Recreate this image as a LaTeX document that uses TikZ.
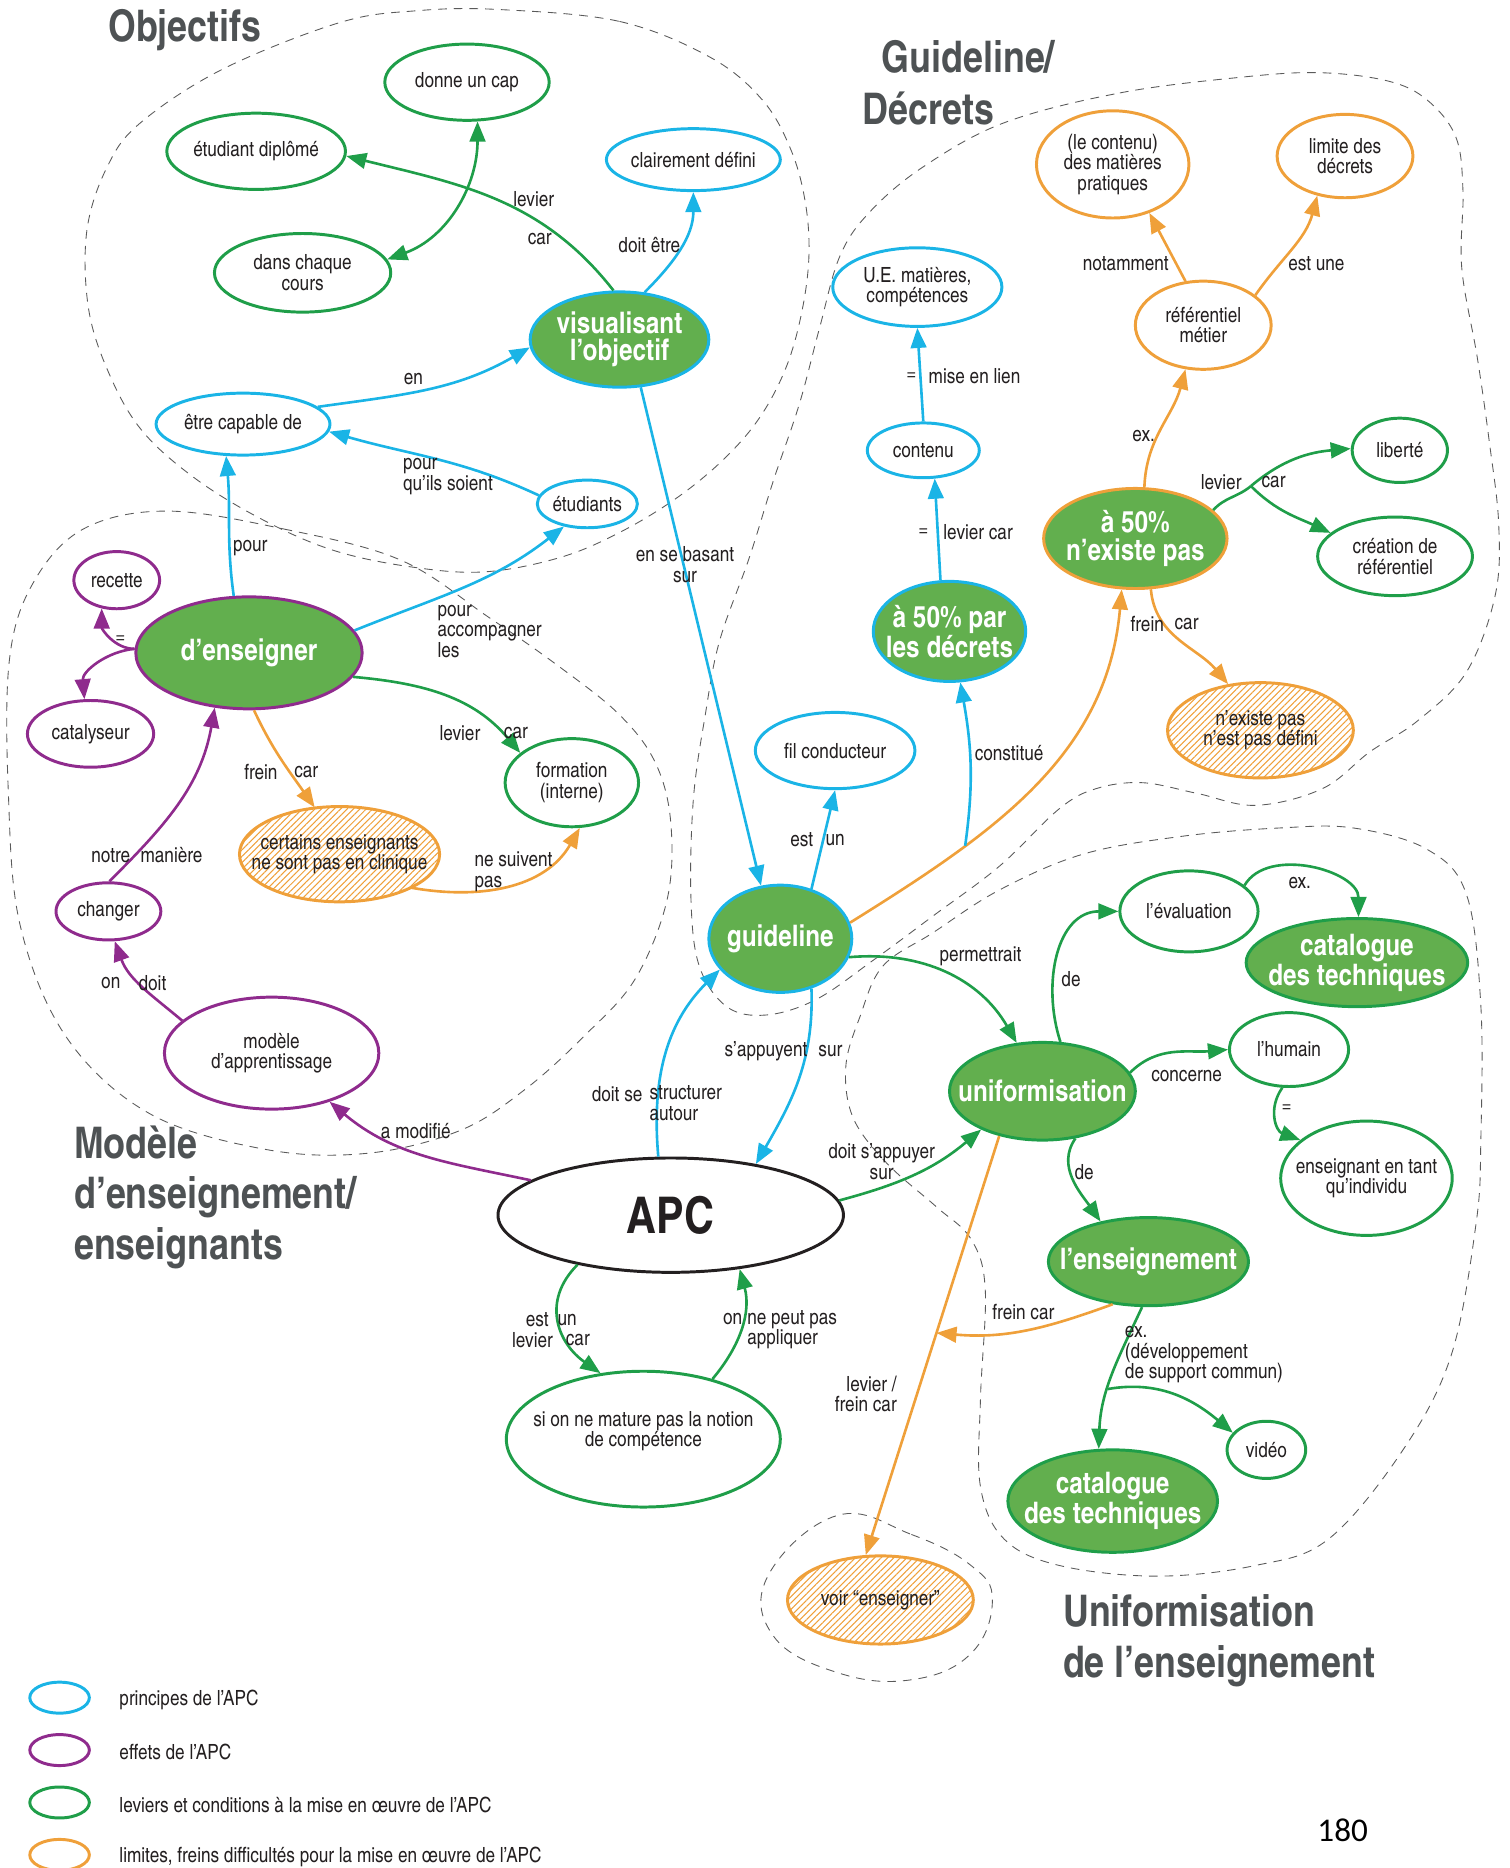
\documentclass[tikz,border=0pt]{standalone}
\usepackage{fontspec}
\setmainfont{texgyreheroscn}[Extension=.otf, UprightFont=*-regular, BoldFont=*-bold, ItalicFont=*-italic, BoldItalicFont=*-bolditalic]
\newfontfamily\pagefont{Carlito}
\usetikzlibrary{shapes.geometric, arrows.meta, patterns.meta}

\definecolor{apccyan}{HTML}{1AB4E6}
\definecolor{apcgreen}{HTML}{1F9E49}
\definecolor{apcfill}{HTML}{62AF4E}
\definecolor{apcpurple}{HTML}{8F2B8D}
\definecolor{apcorange}{HTML}{EFA03A}
\definecolor{apctitle}{HTML}{4E5254}
\definecolor{apctext}{HTML}{231F20}
\definecolor{apczone}{HTML}{5A5A5A}

\tikzset{
  >={Triangle[length=11.5pt, width=9pt]},
  bubble/.style={ellipse, line width=1.7pt, inner sep=-2cm, align=center, text=apctext, font=\fontsize{12}{11.8}\selectfont},
  sz/.style 2 args={minimum width=#1*0.48mm, minimum height=#2*0.48mm},
  principe/.style={bubble, draw=apccyan},
  effet/.style={bubble, draw=apcpurple},
  levier/.style={bubble, draw=apcgreen},
  limite/.style={bubble, draw=apcorange},
  hatched/.style={limite, pattern={Lines[angle=45, distance=2.6pt, line width=0.6pt]}, pattern color=apcorange},
  key/.style={fill=apcfill, text=white, font=\bfseries\fontsize{17}{15.5}\selectfont},
  lbl/.style={inner sep=0pt, align=left, text=apctext, font=\fontsize{12}{11.8}\selectfont},
  heading/.style={inner sep=0pt, align=left, text=apctitle, font=\bfseries\fontsize{25}{29}\selectfont},
  zone/.style={draw=apczone, line width=0.5pt, dash pattern=on 5pt off 4pt},
  link/.style={line width=1.5pt, ->},
  cyanlink/.style={link, draw=apccyan},
  greenlink/.style={link, draw=apcgreen},
  purplelink/.style={link, draw=apcpurple},
  orangelink/.style={link, draw=apcorange}
}

\begin{document}
\begin{tikzpicture}[x=0.024cm, y=-0.024cm]
  \useasboundingbox (0,0) rectangle (1267,1568);

  % Dashed zones
  \draw[zone] plot[smooth cycle, tension=0.6] coordinates {(419,8) (520,18) (596,48) (640,84) (664,126) (676,170) (679,215) (673,262) (660,308) (638,350) (608,385) (568,418) (520,447) (470,468) (407,480) (346,476) (280,462) (220,436) (163,401) (118,360) (90,310) (74,257) (73,193) (90,140) (118,103) (187,58) (285,19) (350,9)};
  \draw[zone] plot[smooth cycle, tension=0.6] coordinates {(140,429) (238,444) (336,470) (410,518) (470,560) (520,600) (550,640) (563,690) (560,755) (533,822) (490,870) (440,915) (386,949) (309,968) (224,965) (126,935) (56,871) (17,777) (7,665) (8,553) (28,489) (70,444)};
  \draw[zone] plot[smooth cycle, tension=0.6] coordinates {(843,103) (940,78) (1040,65) (1107,61) (1165,68) (1198,84) (1222,115) (1228,160) (1227,225) (1240,300) (1250,370) (1258,440) (1255,500) (1231,564) (1190,605) (1150,631) (1110,662) (1054,676) (1005,666) (959,657) (920,662) (889,679) (839,727) (783,769) (733,806) (685,839) (643,852) (610,845) (587,811) (580,755) (582,671) (592,600) (604,538) (629,468) (649,404) (671,339) (688,275) (705,215) (730,178) (775,140)};
  \draw[zone] plot[smooth cycle, tension=0.6] coordinates {(722,853) (741,811) (783,783) (839,747) (909,717) (992,702) (1074,695) (1136,695) (1198,713) (1231,751) (1243,844) (1243,957) (1239,1027) (1218,1138) (1177,1218) (1115,1292) (1054,1314) (971,1323) (889,1314) (843,1292) (823,1248) (823,1174) (827,1082) (815,1040) (786,1013) (744,976) (716,938) (710,895)};
  \draw[zone] plot[smooth cycle, tension=0.7] coordinates {(703,1272) (765,1288) (815,1314) (833,1343) (815,1388) (765,1410) (703,1404) (649,1373) (645,1322)};

  % Titles
  \node[heading] (tobj) at (155,25) {Objectifs};
  \node[heading, anchor=west] (tguide) at (740,48) {Guideline/};
  \node[heading, anchor=west] (tdecret) at (724,91) {Décrets};
  \node[heading, anchor=west] (tmodele) at (62,1005) {Modèle\\d’enseignement/\\enseignants};
  \node[heading, anchor=west] (tunif) at (892,1377) {Uniformisation\\de l’enseignement};
  \node[font=\pagefont\fontsize{19}{19}\selectfont, inner sep=0pt] (page) at (1127,1536) {180};

  % Objectifs
  \node[levier, sz={69}{32}] (donne) at (392,69) {donne un cap};
  \node[levier, sz={75}{32}] (diplome) at (215,127) {étudiant diplômé};
  \node[levier, sz={74}{33}] (chaque) at (254,229) {dans chaque\\cours};
  \node[principe, sz={73}{26}] (clair) at (582,134) {clairement défini};
  \node[principe, key, sz={75}{40}] (visu) at (520,285) {visualisant\\l’objectif};
  \node[principe, sz={73}{26}] (capable) at (204,356) {être capable de};
  \node[principe, sz={42}{20}] (etudiants) at (493,423) {étudiants};

  % Modele d'enseignement
  \node[effet, sz={36}{24}] (recette) at (98,487) {recette};
  \node[effet, key, sz={95}{47}] (enseigner) at (209,548) {d’enseigner};
  \node[effet, sz={53}{28}] (catalyseur) at (76,616) {catalyseur};
  \node[levier, sz={56}{37}] (formation) at (480,657) {formation\\(interne)};
  \node[hatched, sz={84}{40}] (certains) at (285,717) {certains enseignants\\ne sont pas en clinique};
  \node[effet, sz={44}{24}] (changer) at (91,765) {changer};
  \node[effet, sz={90}{47}] (modele) at (228,884) {modèle\\d’apprentissage};

  % Guideline / decrets
  \node[principe, sz={71}{33}] (ue) at (770,241) {U.E. matières,\\compétences};
  \node[principe, sz={47}{23}] (contenu) at (775,378) {contenu};
  \node[principe, key, sz={64}{42}] (decrets) at (797,530) {à 50\% par\\les décrets};
  \node[limite, sz={64}{45}] (matieres) at (934,138) {(le contenu)\\des matières\\pratiques};
  \node[limite, sz={57}{35}] (limdecrets) at (1129,131) {limite des\\décrets};
  \node[limite, sz={57}{37}] (referentiel) at (1010,273) {référentiel\\métier};
  \node[limite, key, sz={77}{42}] (absent) at (953,452) {à 50\%\\n’existe pas};
  \node[levier, sz={40}{27}] (liberte) at (1175,378) {liberté};
  \node[levier, sz={65}{33}] (creation) at (1171,467) {création de\\référentiel};
  \node[hatched, sz={78}{40}] (nondefini) at (1058,613) {n’existe pas\\n’est pas défini};

  % Centre
  \node[principe, sz={67}{32}] (fil) at (701,630) {fil conducteur};
  \node[principe, key, sz={60}{45}] (guideline) at (655,788) {guideline};
  \node[bubble, draw=apctext, sz={145}{48}, font=\bfseries\fontsize{29}{29}\selectfont] (apc) at (563,1020) {APC};
  \node[levier, sz={115}{57}] (mature) at (540,1208) {si on ne mature pas la notion\\de compétence\\\mbox{}};
  \node[hatched, sz={78}{37}] (voir) at (739,1343) {voir “enseigner”};

  % Uniformisation
  \node[levier, sz={58}{34}] (evaluation) at (998,765) {l’évaluation};
  \node[levier, key, sz={93}{37}] (catalogueA) at (1139,808) {catalogue\\des techniques};
  \node[levier, key, sz={78}{41}] (uniform) at (875,916) {uniformisation};
  \node[levier, sz={50}{31}] (humain) at (1082,881) {l’humain};
  \node[levier, sz={72}{48}] (individu) at (1147,989) {enseignant en tant\\qu’individu};
  \node[levier, key, sz={84}{37}] (lenseignement) at (964,1059) {l’enseignement};
  \node[levier, sz={33}{24}] (video) at (1063,1217) {vidéo};
  \node[levier, key, sz={88}{43}] (catalogueB) at (934,1260) {catalogue\\des techniques};

  % Objectifs links
  \draw[greenlink] (visu.97) to[out=128, in=-14] (diplome.-3);
  \draw[greenlink, <->] (donne.-75) to[out=-90, in=20] (chaque.9);
  \draw[cyanlink] (visu.62) to[out=45, in=-90] (clair.-90);
  \draw[cyanlink] (capable.13) to[out=8, in=210] (visu.185);
  \draw[cyanlink] (etudiants.170) to[out=155, in=-16] (capable.-5);
  \draw[cyanlink] (enseigner.105) to[out=98, in=-85] (capable.-118);
  \draw[cyanlink] (enseigner.12) to[out=22, in=218] (etudiants.-136);
  \draw[cyanlink] (visu.-66) -- (guideline.110);

  % Modele links
  \draw[purplelink] (enseigner.178) to[out=180, in=-90] (recette.-118);
  \draw[purplelink] (enseigner.178) to[out=185, in=95] (catalyseur.100);
  \draw[greenlink] (enseigner.-13) to[out=-5, in=130] (formation.150);
  \draw[orangelink] (enseigner.-85) to[out=-65, in=125] (certains.118);
  \draw[orangelink] (certains.-25) to[out=-10, in=240] (formation.-80);
  \draw[purplelink] (changer.88) to[out=45, in=-100] (enseigner.-122);
  \draw[purplelink] (modele.160) to[out=140, in=-70] (changer.-78);
  \draw[purplelink] (apc.166) to[out=168, in=-40] (modele.-40);

  % Decrets links
  \coordinate (fork1) at (1050,408);
  \draw[cyanlink] (contenu.north) -- (ue.south);
  \draw[cyanlink] (decrets.100) -- (contenu.-68);
  \draw[orangelink] (referentiel.112) -- (matieres.-53);
  \draw[orangelink] (referentiel.30) to[out=55, in=-105] (limdecrets.-125);
  \draw[orangelink] (absent.80) to[out=88, in=-105] (referentiel.-112);
  \draw[greenlink, -] (absent.20) to[out=48, in=220] (fork1);
  \draw[greenlink] (fork1) to[out=40, in=185] (liberte.178);
  \draw[greenlink] (fork1) to[out=-45, in=155] (creation.160);
  \draw[orangelink] (absent.-73) to[out=-85, in=130] (nondefini.125);

  % Guideline links
  \draw[orangelink] (guideline.13) to[out=32, in=-95] coordinate[pos=0.29] (branch) (absent.-105);
  \draw[cyanlink] (branch) to[out=82, in=-80] (decrets.-78);
  \draw[cyanlink] (guideline.58) -- (fil.-90);
  \draw[greenlink] (guideline.-15) to[out=5, in=120] (uniform.118);
  \draw[cyanlink] (guideline.-58) to[out=-88, in=60] (apc.31);
  \draw[cyanlink] (apc.102) to[out=95, in=225] (guideline.207);
  \draw[greenlink] (apc.5) to[out=15, in=220] (uniform.212);

  % Uniformisation links
  \draw[greenlink] (uniform.70) to[out=108, in=180, looseness=1.1] (evaluation.west);
  \draw[greenlink] (evaluation.25) to[out=60, in=90] (catalogueA.88);
  \draw[greenlink] (uniform.12) to[out=45, in=185] (humain.west);
  \draw[greenlink] (humain.-100) to[out=-125, in=160, looseness=1.2] (individu.150);
  \draw[greenlink] (uniform.-55) to[out=-125, in=125] (lenseignement.140);
  \draw[orangelink] (uniform.-134) -- coordinate[pos=0.47] (halfway) (voir.108);
  \draw[orangelink] (lenseignement.-130) to[out=-160, in=-5] (halfway);
  \draw[greenlink] (lenseignement.-98) to[out=-115, in=88] coordinate[pos=0.6] (fork2) (catalogueB.105);
  \draw[greenlink] (fork2) to[out=10, in=140] (video.153);

  % APC links
  \draw[greenlink] (apc.-152) to[out=-135, in=145, looseness=1.2] (mature.123);
  \draw[greenlink] (mature.41) to[out=50, in=-75] (apc.-38);

  % Link labels
  \node[lbl] at (448,167) {levier};
  \node[lbl] at (453,201) {car};
  \node[lbl] at (545,206) {doit être};
  \node[lbl] at (347,318) {en};
  \node[lbl, anchor=west] at (338,400) {pour\\qu’ils soient};
  \node[lbl] at (210,460) {pour};
  \node[lbl, anchor=west] at (367,530) {pour\\accompagner\\les};
  \node[lbl, align=center] at (575,474) {en se basant\\sur};
  \node[lbl] at (101,537) {=};
  \node[lbl] at (386,615) {levier};
  \node[lbl] at (433,615) {car};
  \node[lbl] at (219,648) {frein};
  \node[lbl] at (257,648) {car};
  \node[lbl, anchor=west] at (398,732) {ne suivent\\pas};
  \node[lbl] at (93,718) {notre};
  \node[lbl] at (144,718) {manière};
  \node[lbl] at (93,825) {on};
  \node[lbl] at (128,825) {doit};
  \node[lbl] at (349,949) {a modifié};
  \node[lbl] at (765,316) {=};
  \node[lbl] at (818,316) {mise en lien};
  \node[lbl] at (775,447) {=};
  \node[lbl] at (821,447) {levier car};
  \node[lbl] at (945,221) {notamment};
  \node[lbl] at (1105,221) {est une};
  \node[lbl] at (960,366) {ex.};
  \node[lbl] at (1025,405) {levier};
  \node[lbl] at (1069,405) {car};
  \node[lbl] at (963,524) {frein};
  \node[lbl] at (996,524) {car};
  \node[lbl] at (847,632) {constitué};
  \node[lbl] at (673,705) {est};
  \node[lbl] at (701,705) {un};
  \node[lbl] at (823,803) {permettrait};
  \node[lbl] at (643,882) {s’appuyent};
  \node[lbl] at (697,882) {sur};
  \node[lbl] at (518,918) {doit se};
  \node[lbl, anchor=west] at (545,926) {structurer\\autour};
  \node[lbl, align=center] at (740,975) {doit s’appuyer\\sur};
  \node[lbl] at (899,822) {de};
  \node[lbl] at (1091,741) {ex.};
  \node[lbl] at (996,903) {concerne};
  \node[lbl] at (1080,931) {=};
  \node[lbl] at (910,984) {de};
  \node[lbl] at (859,1101) {frein car};
  \node[lbl, anchor=east, align=right] at (753,1170) {levier /\\frein car};
  \node[lbl, anchor=west] at (944,1137) {ex.\\(développement\\de support commun)};
  \node[lbl] at (451,1108) {est};
  \node[lbl] at (476,1108) {un};
  \node[lbl] at (447,1125) {levier};
  \node[lbl] at (485,1125) {car};
  \node[lbl] at (615,1107) {on};
  \node[lbl, anchor=west] at (627,1116) {ne peut pas\\appliquer};

  % Legend
  \node[principe, sz={25}{13}] (legcyan) at (50,1425) {};
  \node[effet, sz={25}{13}] (legpurple) at (50,1469) {};
  \node[levier, sz={25}{13}] (leggreen) at (50,1513) {};
  \node[limite, sz={25}{13}] (legorange) at (50,1557) {};
  \node[lbl, anchor=west] at (100,1427) {principes de l’APC};
  \node[lbl, anchor=west] at (100,1471) {effets de l’APC};
  \node[lbl, anchor=west] at (100,1515) {leviers et conditions à la mise en œuvre de l'APC};
  \node[lbl, anchor=west] at (100,1559) {limites, freins difficultés pour la mise en œuvre de l’APC};
\end{tikzpicture}
\end{document}
